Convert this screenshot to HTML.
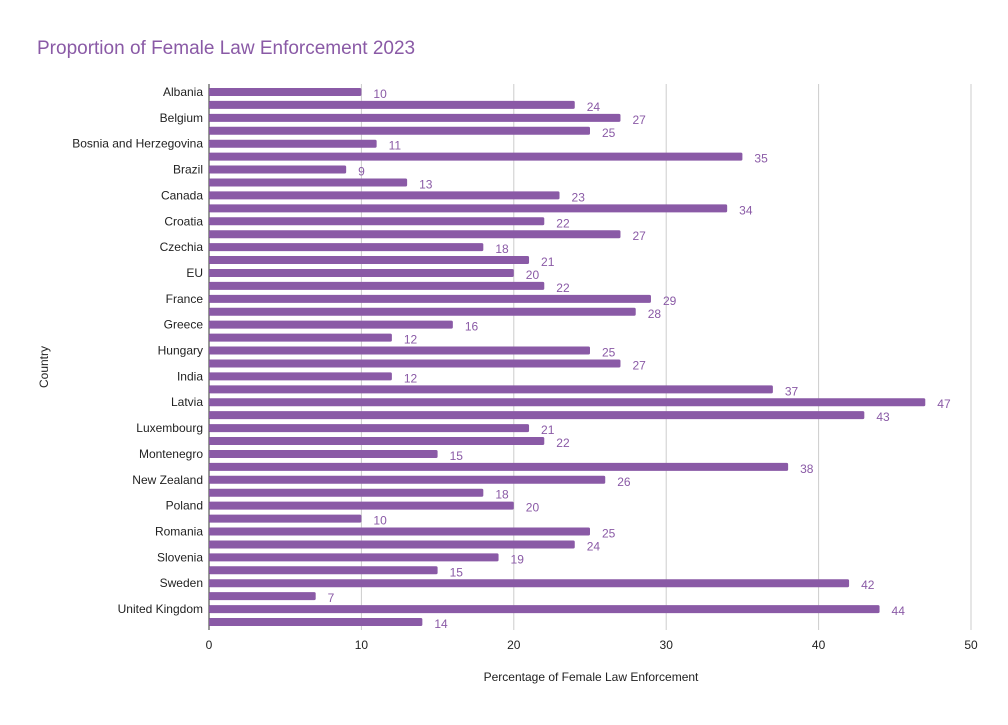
<!DOCTYPE html>
<html><head><meta charset="utf-8"><style>
body{margin:0;background:#fff;font-family:"Liberation Sans",Arial,sans-serif}
svg text{font-family:"Liberation Sans",Arial,sans-serif}
</style></head><body>
<svg id="chart" width="1008" height="720" viewBox="0 0 1008 720">
<rect width="1008" height="720" fill="#fff"/>
<text x="37" y="54" font-size="19" fill="#8a5aa6">Proportion of Female Law Enforcement 2023</text>
<g id="grid"></g><g id="bars"></g><g id="ylabels"></g><g id="xticks"></g>
<text x="591" y="681" font-size="12" text-anchor="middle" fill="#222">Percentage of Female Law Enforcement</text>
<text transform="translate(48,367) rotate(-90)" font-size="12" text-anchor="middle" fill="#222">Country</text>
</svg>
<script>
const categories=["Albania","Austria","Belgium","Bermuda","Bosnia and Herzegovina","Botswana","Brazil","Bulgaria","Canada","Chile","Croatia","Cyprus","Czechia","Estonia","EU","Finland","France","Germany","Greece","Guatemala","Hungary","Iceland","India","Ireland","Latvia","Lithuania","Luxembourg","Malta","Montenegro","Netherlands","New Zealand","Norway","Poland","Portugal","Romania","Serbia","Slovenia","Spain","Sweden","Turkey","United Kingdom","United States"];
const values=[10,24,27,25,11,35,9,13,23,34,22,27,18,21,20,22,29,28,16,12,25,27,12,37,47,43,21,22,15,38,26,18,20,10,25,24,19,15,42,7,44,14];
const xTicks=[0,10,20,30,40,50];
const NS="http://www.w3.org/2000/svg";
const x0=209,x1=971,xMax=50,yTop=92,yBot=622;
const xs=v=>x0+(x1-x0)*v/xMax;
const ys=i=>yTop+(yBot-yTop)*i/(categories.length-1);
function mk(t,a,p){const e=document.createElementNS(NS,t);for(const k in a)e.setAttribute(k,a[k]);document.getElementById(p).appendChild(e);return e;}
xTicks.forEach(t=>{
 const l=mk('line',{x1:xs(t),x2:xs(t),y1:84,y2:630,stroke:t===0?'#333':'#ccc','stroke-width':1},'grid');
 
 
 const tx=mk('text',{x:xs(t),y:649,'font-size':12,'text-anchor':'middle',fill:'#222'},'xticks');
 tx.textContent=t;
 
 
});
categories.forEach((c,i)=>{
 const v=values[i],y=ys(i);
 const r=mk('rect',{x:x0,y:y-4,width:xs(v)-x0,height:8,rx:1.5,fill:'#8a5aa6'},'bars');
 
 
 const vl=mk('text',{x:xs(v)+12,y:y+6,'font-size':12,fill:'#8a5aa6'},'bars');
 vl.textContent=v;
 
 
 if(i%2===0){
  const t=mk('text',{x:203,y:y+4,'font-size':12,'text-anchor':'end',fill:'#222'},'ylabels');
  t.textContent=c;
  
  
 }
});
</script>
</body></html>
